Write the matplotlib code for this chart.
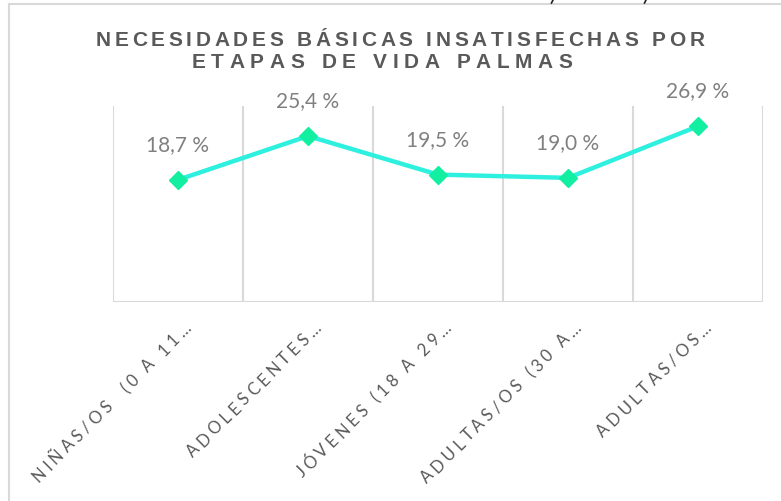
import math

import matplotlib
matplotlib.use("Agg")
import matplotlib.pyplot as plt
import numpy as np
from matplotlib.font_manager import FontProperties, findfont, get_font
from matplotlib.lines import Line2D

W, H, DPI = 781, 501, 100

titulo = ["NECESIDADES BÁSICAS INSATISFECHAS POR", "ETAPAS DE VIDA PALMAS"]
etapas = [
    "NIÑAS/OS  (0 A 11…",
    "ADOLESCENTES…",
    "JÓVENES (18 A 29…",
    "ADULTAS/OS (30 A…",
    "ADULTAS/OS…",
]
porcentajes = [18.7, 25.4, 19.5, 19.0, 26.9]

GRIS_GRID = "#d9d9d9"
GRIS_TITULO = "#595959"
GRIS_ETIQ = "#808080"
COLOR_LINEA = "#2ef0de"
COLOR_MARCA = "#12efa0"

fig = plt.figure(figsize=(W / DPI, H / DPI), dpi=DPI)


def texto_espaciado(s, x0, y0, prop, espacio, angulo=0.0, alinear="left", color="k"):
    """Dibuja s letra a letra (con tracking) desde el punto x0, y0 en pixeles."""
    font = get_font(findfont(prop))
    font.set_size(prop.get_size_in_points(), DPI)
    avances = [font.load_char(ord(c)).linearHoriAdvance / 65536 for c in s]
    total = sum(avances) + espacio * (len(s) - 1)
    pos = -{"left": 0, "center": total / 2, "right": total}[alinear]
    c, sn = math.cos(math.radians(angulo)), math.sin(math.radians(angulo))
    inv = fig.transFigure.inverted()
    for ch, adv in zip(s, avances):
        if ch != " ":
            fx, fy = inv.transform((x0 + pos * c, y0 + pos * sn))
            fig.text(fx, fy, ch, fontproperties=prop, color=color,
                     rotation=angulo, rotation_mode="anchor",
                     ha="left", va="baseline")
        pos += adv + espacio


# marco exterior del grafico (solo borde izquierdo y superior visibles)
fig.add_artist(Line2D([9 / W, 9 / W], [0, 1 - 4 / H], transform=fig.transFigure,
                      color=GRIS_GRID, lw=1.5))
fig.add_artist(Line2D([9 / W, 1], [1 - 4 / H, 1 - 4 / H], transform=fig.transFigure,
                      color=GRIS_GRID, lw=1.5))
# restos de texto cursivo por encima del marco
for xp in (553, 646):
    fig.add_artist(Line2D([xp / W, (xp - 1.5) / W], [1, 1 - 3 / H],
                          transform=fig.transFigure, color="#222222", lw=1.2))

ax = fig.add_axes([113 / W, 1 - 302 / H, 650 / W, 196 / H])
x = np.arange(len(porcentajes))

ax.plot(x, porcentajes, color=COLOR_LINEA, lw=3.2, marker="D", ms=9,
        mfc=COLOR_MARCA, mec=COLOR_MARCA, zorder=3, solid_capstyle="round")

ax.set_xlim(-0.5, len(porcentajes) - 0.5)
ax.set_ylim(0, 30)
for b in np.arange(-0.5, len(porcentajes)):
    ax.axvline(b, color=GRIS_GRID, lw=1.5, zorder=1)
ax.axhline(0, color=GRIS_GRID, lw=1.5, zorder=1)
for s in ax.spines.values():
    s.set_visible(False)
ax.set_xticks([])
ax.set_yticks([])

# etiquetas de datos
for i, v in enumerate(porcentajes):
    ax.annotate(f"{v:.1f} %".replace(".", ","), (i, v), xytext=(0, 35),
                textcoords="offset pixels", ha="center", va="center",
                fontsize=15, family=["Lato", "DejaVu Sans"], color=GRIS_ETIQ)

# titulo con tracking
p_tit = FontProperties(family=["Liberation Sans", "DejaVu Sans"],
                       weight="bold", size=15)
texto_espaciado(titulo[0], 400, H - 46, p_tit, 3.7, alinear="center", color=GRIS_TITULO)
texto_espaciado(titulo[1], 382, H - 68, p_tit, 5.6, alinear="center", color=GRIS_TITULO)

# etiquetas de categoria giradas 45 grados
p_cat = FontProperties(family=["Lato", "DejaVu Sans"], size=12)
fig.canvas.draw()
for i, et in enumerate(etapas):
    xd, yd = ax.transData.transform((i, 0))
    texto_espaciado(et, xd + 14, yd - 27, p_cat, 3.7, angulo=45,
                    alinear="right", color=GRIS_TITULO)

fig.savefig("out.png", dpi=DPI)
